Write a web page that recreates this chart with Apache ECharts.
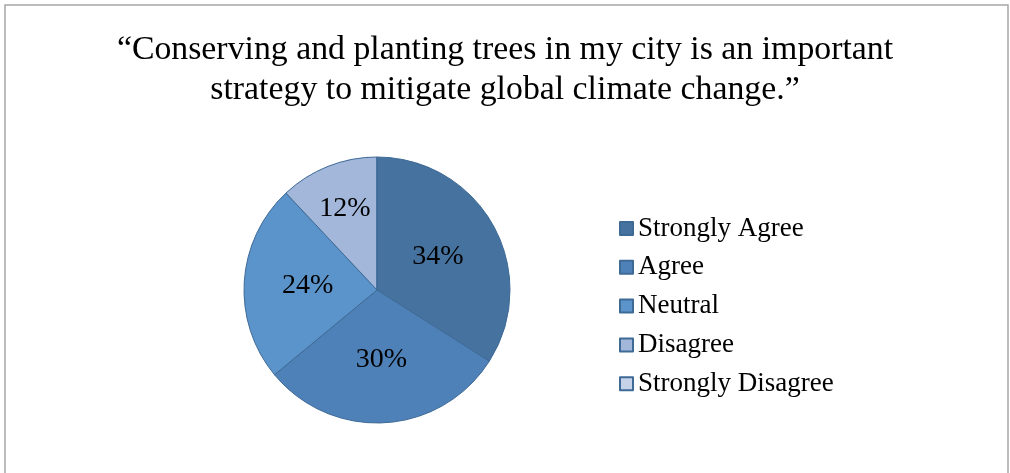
<!DOCTYPE html>
<html>
<head>
<meta charset="utf-8">
<script src="https://cdn.jsdelivr.net/npm/echarts@6/dist/echarts.min.js"></script>
<style>html,body{margin:0;padding:0;background:#fff;}#c{width:1010px;height:473px;}</style>
</head>
<body>
<div id="c"></div>
<script>
const titleText = '\u201cConserving and planting trees in my city is an important\nstrategy to mitigate global climate change.\u201d';
const categories = ['Strongly Agree', 'Agree', 'Neutral', 'Disagree', 'Strongly Disagree'];
const values = [34, 30, 24, 12, 0];
const colors = ['#4672a0', '#4f81b9', '#5b94cb', '#a2b7da', '#c5d2e7'];

const chart = echarts.init(document.getElementById('c'));
const FONT = '"Liberation Serif", serif';
const total = values.reduce((a, b) => a + b, 0);
let cum = 0;
const data = categories.map((c, i) => {
  const mid = (cum + values[i] / 2) / total * 2 * Math.PI;
  cum += values[i];
  const item = { name: c, value: values[i], itemStyle: { color: colors[i] } };
  if (values[i] > 0 && values[i] / total < 0.15) {
    const extra = 18;
    item.label = { offset: [Math.sin(mid) * extra, -Math.cos(mid) * extra] };
  }
  return item;
});

chart.setOption({
  animation: false,
  backgroundColor: '#fff',
  title: {
    text: titleText,
    left: 'center',
    top: 25,
    textStyle: { fontFamily: FONT, fontSize: 33.8, fontWeight: 'normal', color: '#000', lineHeight: 40 }
  },
  graphic: [{
    type: 'rect',
    shape: { x: 5, y: 5, width: 1003, height: 480 },
    style: { fill: 'none', stroke: '#a6a6a6', lineWidth: 1.5 },
    silent: true
  }],
  legend: {
    orient: 'vertical',
    left: 614,
    top: 210,
    itemWidth: 13,
    itemHeight: 13,
    itemGap: 11.8,
    icon: 'rect',
    data: categories,
    textStyle: { fontFamily: FONT, fontSize: 27, color: '#000', lineHeight: 24, padding: [0, 0, 0, 0] }
  },
  series: [{
    type: 'pie',
    center: [377, 290],
    radius: [0, 133],
    startAngle: 90,
    clockwise: true,
    stillShowZeroSum: true,
    label: {
      show: true,
      position: 'inside',
      fontFamily: FONT,
      fontSize: 28,
      color: '#000',
      formatter: p => (p.value ? p.value + '%' : '')
    },
    labelLine: { show: false },
    itemStyle: { borderColor: '#3e6a96', borderWidth: 1 },
    emphasis: { disabled: true },
    data: data
  }]
});
</script>
</body>
</html>
